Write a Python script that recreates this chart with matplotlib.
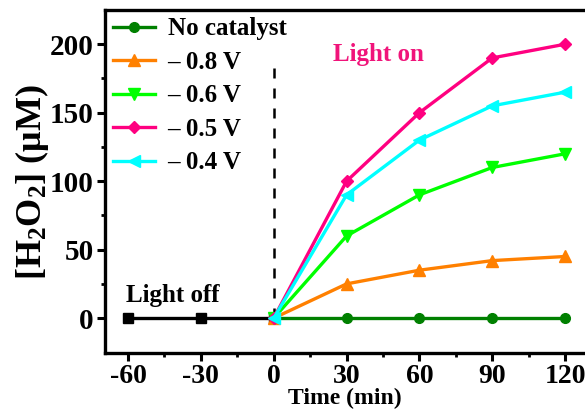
import numpy as np
import matplotlib.pyplot as plt

t_dark = [-60, -30, 0]
h2o2_dark = [0, 0, 0]
t_light = [0, 30, 60, 90, 120]
no_cat = [0, 0, 0, 0, 0]
v08 = [0, 25, 35, 42, 45]
v06 = [0, 60, 90, 110, 120]
v05 = [0, 100, 150, 190, 200]
v04 = [0, 90, 130, 155, 165]

plt.rcParams['font.family'] = ['Liberation Serif', 'DejaVu Serif']
plt.rcParams['font.weight'] = 'bold'
plt.rcParams['axes.unicode_minus'] = False
plt.rcParams['mathtext.fontset'] = 'custom'
plt.rcParams['mathtext.rm'] = 'Liberation Serif:bold'
plt.rcParams['mathtext.it'] = 'Liberation Serif:bold'
plt.rcParams['mathtext.bf'] = 'Liberation Serif:bold'

fig = plt.figure(figsize=(5.85, 4.11), dpi=100)
ax = fig.add_axes([0.1795, 0.141, 0.8205, 0.8347])

lw = 2.4
ms = 7
ax.plot(t_dark, h2o2_dark, color='black', marker='s', lw=lw, ms=ms)
ax.plot(t_light, no_cat, color='#008000', marker='o', lw=lw, ms=ms, label='No catalyst')
ax.plot(t_light, v08, color='#FF8000', marker='^', lw=lw, ms=ms+1, label='\u2013 0.8 V')
ax.plot(t_light, v06, color='#00FF00', marker='v', lw=lw, ms=ms+1, label='\u2013 0.6 V')
ax.plot(t_light, v05, color='#FF0080', marker='D', lw=lw, ms=ms-1, label='\u2013 0.5 V')
ax.plot(t_light, v04, color='#00FFFF', marker='<', lw=lw, ms=ms+1, label='\u2013 0.4 V')

ax.plot([0, 0], [0, 186], color='black', ls=(0, (4, 4)), lw=1.8, zorder=1)

ax.text(-61, 12, 'Light off', fontsize=18, fontweight='bold', color='black')
ax.text(24.5, 188, 'Light on', fontsize=18, fontweight='bold', color='#F0147A')

ax.set_xlim(-69.5, 128.2)
ax.set_ylim(-25.5, 225)
ax.set_xticks([-60, -30, 0, 30, 60, 90, 120])
ax.set_xticks(np.arange(-45, 121, 30), minor=True)
ax.set_yticks([0, 50, 100, 150, 200])
ax.set_yticks([25, 75, 125, 175], minor=True)

ax.spines['right'].set_visible(False)
for s in ['left', 'bottom', 'top']:
    ax.spines[s].set_linewidth(2.4)
ax.tick_params(which='major', direction='out', length=6, width=2.2, labelsize=21)
ax.tick_params(which='minor', direction='out', length=3, width=2.0)
ax.tick_params(axis='x', pad=2, labelsize=20)
ax.tick_params(axis='y', pad=2)

ax.set_xlabel('Time (min)', fontsize=17, fontweight='bold', labelpad=-1)
ax.set_ylabel('[H$_2$O$_2$] (\u03bcM)', fontsize=26, fontweight='bold', labelpad=-1)

leg = ax.legend(loc='upper left', frameon=False, fontsize=18, handlelength=1.7,
                labelspacing=0.42, borderaxespad=0.0, borderpad=0.3, handletextpad=0.5,
                bbox_to_anchor=(0.0, 1.0))

fig.savefig('out.png', dpi=100)
